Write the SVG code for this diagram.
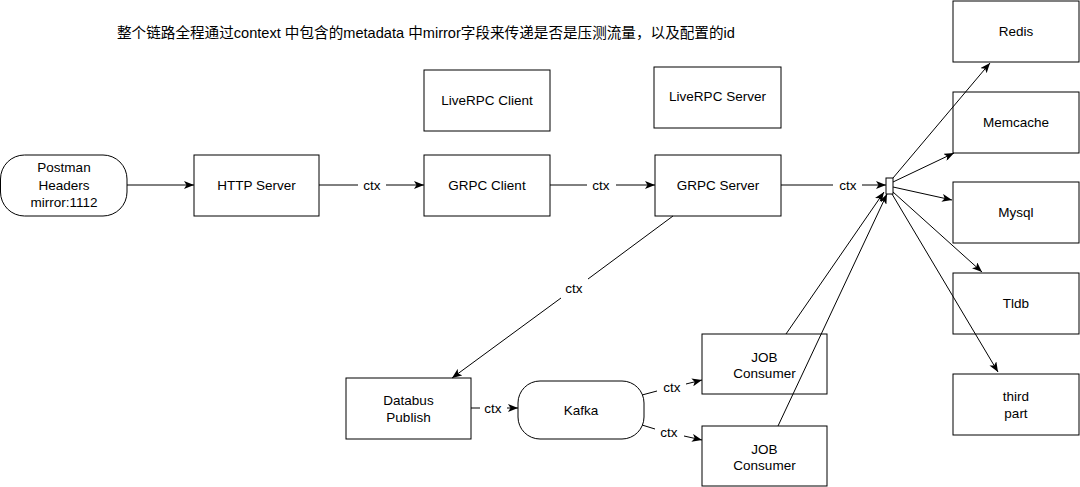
<svg xmlns="http://www.w3.org/2000/svg" width="1080" height="487" viewBox="0 0 1080 487">
<style>
  .box { fill: #ffffff; stroke: #000000; stroke-width: 1; }
  .lbl { font-family: "Liberation Sans", Arial, sans-serif; font-size: 13.5px; fill: #000000; text-anchor: middle; }
  .conn { fill: none; stroke: #000000; stroke-width: 1; }
  .arr { marker-end: url(#ah); }
  .title { font-family: "Liberation Sans", "Noto Sans CJK SC", sans-serif; font-size: 14.6px; fill: #000000; }
</style>
<defs>
  <marker id="ah" viewBox="0 0 10 8" refX="10" refY="4" markerWidth="10" markerHeight="8" markerUnits="userSpaceOnUse" orient="auto">
    <path d="M0,0 L10,4 L0,8 L2.5,4 z" fill="#000000"/>
  </marker>
</defs>
<rect width="1080" height="487" fill="#ffffff"/>

<text class="title" x="117" y="38">整个链路全程通过context 中包含的metadata 中mirror字段来传递是否是压测流量，以及配置的id</text>

<g id="postman">
  <rect class="box" x="0.5" y="155" width="126.5" height="61" rx="24" ry="24"/>
  <text class="lbl" x="64" y="172">Postman</text>
  <text class="lbl" x="64" y="190">Headers</text>
  <text class="lbl" x="64" y="207">mirror:1112</text>
</g>

<g id="http-server">
  <rect class="box" x="194" y="155" width="125" height="61"/>
  <text class="lbl" x="256.5" y="190">HTTP Server</text>
</g>

<g id="liverpc-client">
  <rect class="box" x="424" y="70" width="126" height="61"/>
  <text class="lbl" x="487" y="105">LiveRPC Client</text>
</g>

<g id="grpc-client">
  <rect class="box" x="424" y="155" width="126" height="61"/>
  <text class="lbl" x="487" y="190">GRPC Client</text>
</g>

<g id="liverpc-server">
  <rect class="box" x="654" y="67" width="127" height="61"/>
  <text class="lbl" x="717.5" y="101">LiveRPC Server</text>
</g>

<g id="grpc-server">
  <rect class="box" x="655" y="155" width="126" height="61"/>
  <text class="lbl" x="718" y="190">GRPC Server</text>
</g>

<g id="redis">
  <rect class="box" x="953" y="1" width="126" height="61"/>
  <text class="lbl" x="1016" y="36">Redis</text>
</g>

<g id="memcache">
  <rect class="box" x="953" y="92" width="126" height="61"/>
  <text class="lbl" x="1016" y="127">Memcache</text>
</g>

<g id="mysql">
  <rect class="box" x="953" y="182" width="126" height="61"/>
  <text class="lbl" x="1016" y="217">Mysql</text>
</g>

<g id="tidb">
  <rect class="box" x="953" y="273" width="126" height="61"/>
  <text class="lbl" x="1016" y="308">Tldb</text>
</g>

<g id="third-part">
  <rect class="box" x="953" y="374" width="126" height="61"/>
  <text class="lbl" x="1016" y="401">third</text>
  <text class="lbl" x="1016" y="418">part</text>
</g>

<g id="databus">
  <rect class="box" x="346" y="378" width="125" height="61"/>
  <text class="lbl" x="408.5" y="405">Databus</text>
  <text class="lbl" x="408.5" y="422">Publish</text>
</g>

<g id="kafka">
  <rect class="box" x="518" y="381" width="126" height="58" rx="22" ry="22"/>
  <text class="lbl" x="581" y="415">Kafka</text>
</g>

<g id="job-consumer-1">
  <rect class="box" x="702" y="334" width="125" height="60"/>
  <text class="lbl" x="764.5" y="362">JOB</text>
  <text class="lbl" x="764.5" y="378">Consumer</text>
</g>

<g id="job-consumer-2">
  <rect class="box" x="702" y="426" width="125" height="60"/>
  <text class="lbl" x="764.5" y="454">JOB</text>
  <text class="lbl" x="764.5" y="470">Consumer</text>
</g>

<g id="connectors">
  <line class="conn arr" x1="127" y1="185" x2="194" y2="185"/>
  <line class="conn" x1="319" y1="185" x2="358" y2="185"/>
  <text class="lbl" x="372" y="190">ctx</text>
  <line class="conn arr" x1="386" y1="185" x2="424" y2="185"/>
  <line class="conn" x1="550" y1="185" x2="587" y2="185"/>
  <text class="lbl" x="601" y="190">ctx</text>
  <line class="conn arr" x1="616" y1="185" x2="655" y2="185"/>
  <line class="conn" x1="781" y1="185" x2="833" y2="185"/>
  <text class="lbl" x="848" y="190">ctx</text>
  <line class="conn arr" x1="862" y1="185" x2="886" y2="185"/>

  <line class="conn" x1="673" y1="216" x2="588" y2="279"/>
  <text class="lbl" x="574" y="293">ctx</text>
  <line class="conn arr" x1="561" y1="298" x2="452" y2="378"/>

  <line class="conn" x1="471" y1="408" x2="480" y2="408"/>
  <text class="lbl" x="493" y="413">ctx</text>
  <line class="conn arr" x1="507" y1="408" x2="518" y2="408"/>

  <line class="conn" x1="642" y1="395" x2="657" y2="391"/>
  <text class="lbl" x="672" y="392">ctx</text>
  <line class="conn arr" x1="686" y1="384" x2="702" y2="380"/>

  <line class="conn" x1="642" y1="425" x2="655" y2="429"/>
  <text class="lbl" x="669" y="437">ctx</text>
  <line class="conn arr" x1="684" y1="436" x2="702" y2="440"/>

  <line class="conn arr" x1="893" y1="178" x2="990" y2="63"/>
  <line class="conn arr" x1="893" y1="182" x2="954" y2="153"/>
  <line class="conn arr" x1="893" y1="187" x2="952" y2="200"/>
  <line class="conn arr" x1="893" y1="192" x2="982" y2="272"/>
  <line class="conn arr" x1="892" y1="194" x2="998" y2="372"/>

  <line class="conn arr" x1="786" y1="334" x2="884" y2="192"/>
  <line class="conn arr" x1="778" y1="426" x2="887" y2="194"/>
</g>

<g id="junction"><rect class="box" x="886" y="178" width="7" height="16"/></g>
</svg>
